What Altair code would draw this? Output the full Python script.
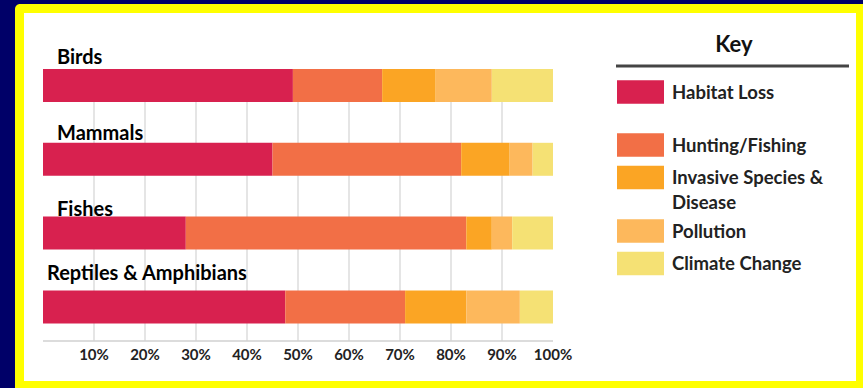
import altair as alt
import pandas as pd

species = ["Birds", "Mammals", "Fishes", "Reptiles & Amphibians"]
causes = ["Habitat Loss", "Hunting/Fishing", "Invasive Species & Disease", "Pollution", "Climate Change"]
legend_labels = ["Habitat Loss", "Hunting/Fishing", "Invasive Species &\nDisease", "Pollution", "Climate Change"]
colors = ["#D8214F", "#F26F46", "#FBA524", "#FDB85C", "#F5E174"]

habitat_loss = [49, 45, 28, 47.5]
hunting_fishing = [17.5, 37, 55, 23.5]
invasive_disease = [10.5, 9.5, 5, 12]
pollution = [11, 4.5, 4, 10.5]
climate_change = [12, 4, 8, 6.5]
series = [habitat_loss, hunting_fishing, invasive_disease, pollution, climate_change]

tick_values = [10, 20, 30, 40, 50, 60, 70, 80, 90, 100]
grid_values = [10, 20, 30, 40, 50, 60, 70, 80, 90]
axis_extent = [0, 100]

rows = []
for ci, (cause, vals) in enumerate(zip(causes, series)):
    for s, v in zip(species, vals):
        rows.append({"species": s, "cause": cause, "value": v, "idx": ci})
df = pd.DataFrame(rows)
legend_df = pd.DataFrame({"cause": causes, "label": legend_labels, "idx": list(range(len(causes)))})
label_df = pd.DataFrame({"species": species, "row": list(range(len(species)))})
grid_df = pd.DataFrame({"t": grid_values})
tick_df = pd.DataFrame({"t": tick_values})
domain_df = pd.DataFrame({"a": [axis_extent[0]], "b": [axis_extent[1]]})

FONT = "Lato"
x_scale = alt.Scale(domain=[0, 100], range=[43, 553], nice=False, zero=False)
y_scale = alt.Scale(range=[69, 323.4], paddingInner=0.553, paddingOuter=0)
label_y_scale = alt.Scale(domain=[0, 1, 2, 3], range=[57.5, 134, 209.5, 274], nice=False, zero=False)
label_x_scale = alt.Scale(domain=[0, 1, 2, 3], range=[57, 57, 57, 47], nice=False, zero=False)
leg_scale = alt.Scale(domain=[0, 1, 2, 3, 4], range=[92, 145, 177.5, 231, 263.5], nice=False, zero=False)
color_scale = alt.Scale(domain=causes, range=colors)

one = alt.Data(values=[{}])

frame = alt.Chart(one).mark_rect(color="#FFFF00", cornerRadius=5).encode(
    x=alt.value(15), x2=alt.value(900), y=alt.value(4), y2=alt.value(420)
)
inner = alt.Chart(one).mark_rect(color="#FFFFFF").encode(
    x=alt.value(24), x2=alt.value(856), y=alt.value(13), y2=alt.value(381)
)

grid = alt.Chart(grid_df).mark_rule(color="#DCDCDC", strokeWidth=1.5).encode(
    x=alt.X("t:Q", scale=x_scale, axis=None),
    y=alt.value(69), y2=alt.value(341),
)

domain_line = alt.Chart(domain_df).mark_rule(color="#D0D0D0", strokeWidth=1.5).encode(
    x=alt.X("a:Q", scale=x_scale, axis=None),
    x2="b:Q",
    y=alt.value(341),
)

tick_labels = alt.Chart(tick_df).transform_calculate(
    lab="datum.t + '%'"
).mark_text(
    align="center", baseline="middle", font=FONT, fontWeight="bold",
    fontSize=15, color="#222222",
).encode(
    x=alt.X("t:Q", scale=x_scale, axis=None),
    y=alt.value(355),
    text="lab:N",
)

bars = alt.Chart(df).mark_bar(opacity=1).encode(
    x=alt.X("value:Q", stack="zero", scale=x_scale, axis=None),
    y=alt.Y("species:N", sort=species, scale=y_scale, axis=None),
    color=alt.Color("cause:N", scale=color_scale, legend=None),
    order=alt.Order("idx:Q"),
)

labels = alt.Chart(label_df).mark_text(
    align="left", baseline="middle", font=FONT, fontWeight="bold",
    fontSize=20, color="#000000",
).encode(
    x=alt.X("row:Q", scale=label_x_scale, axis=None),
    y=alt.Y("row:Q", scale=label_y_scale, axis=None),
    text="species:N",
)

main = alt.layer(
    alt.layer(grid, domain_line, bars, tick_labels), labels
).resolve_scale(x="independent", y="independent")

swatches = alt.Chart(legend_df).mark_point(
    shape="M-1,-0.5H1V0.5H-1Z", filled=True, size=2209, opacity=1, strokeWidth=0,
).encode(
    x=alt.value(640.5),
    y=alt.Y("idx:Q", scale=leg_scale, axis=None),
    color=alt.Color("cause:N", scale=color_scale, legend=None),
)
leg_text = alt.Chart(legend_df).mark_text(
    align="left", baseline="alphabetic", dy=6.5, lineBreak="\n", lineHeight=25,
    font=FONT, fontWeight="bold", fontSize=18.5, color="#222222",
).encode(
    x=alt.value(672),
    y=alt.Y("idx:Q", scale=leg_scale, axis=None),
    text="label:N",
)
legend = alt.layer(swatches, leg_text)

key_title = alt.Chart(one).mark_text(
    text="Key", align="center", baseline="middle", font=FONT,
    fontWeight="bold", fontSize=22, color="#111111",
).encode(x=alt.value(734), y=alt.value(45))
key_rule = alt.Chart(one).mark_rule(color="#444444", strokeWidth=3).encode(
    x=alt.value(616), x2=alt.value(849), y=alt.value(66)
)

chart = alt.layer(frame, inner, main, legend, key_title, key_rule).resolve_scale(
    y="independent"
).properties(
    width=863, height=388, autosize=alt.AutoSizeParams(type="none"), padding=0
).configure(background="#000068").configure_view(stroke=None)

chart.save("out.html", embed_options={"renderer": "svg", "actions": False})
